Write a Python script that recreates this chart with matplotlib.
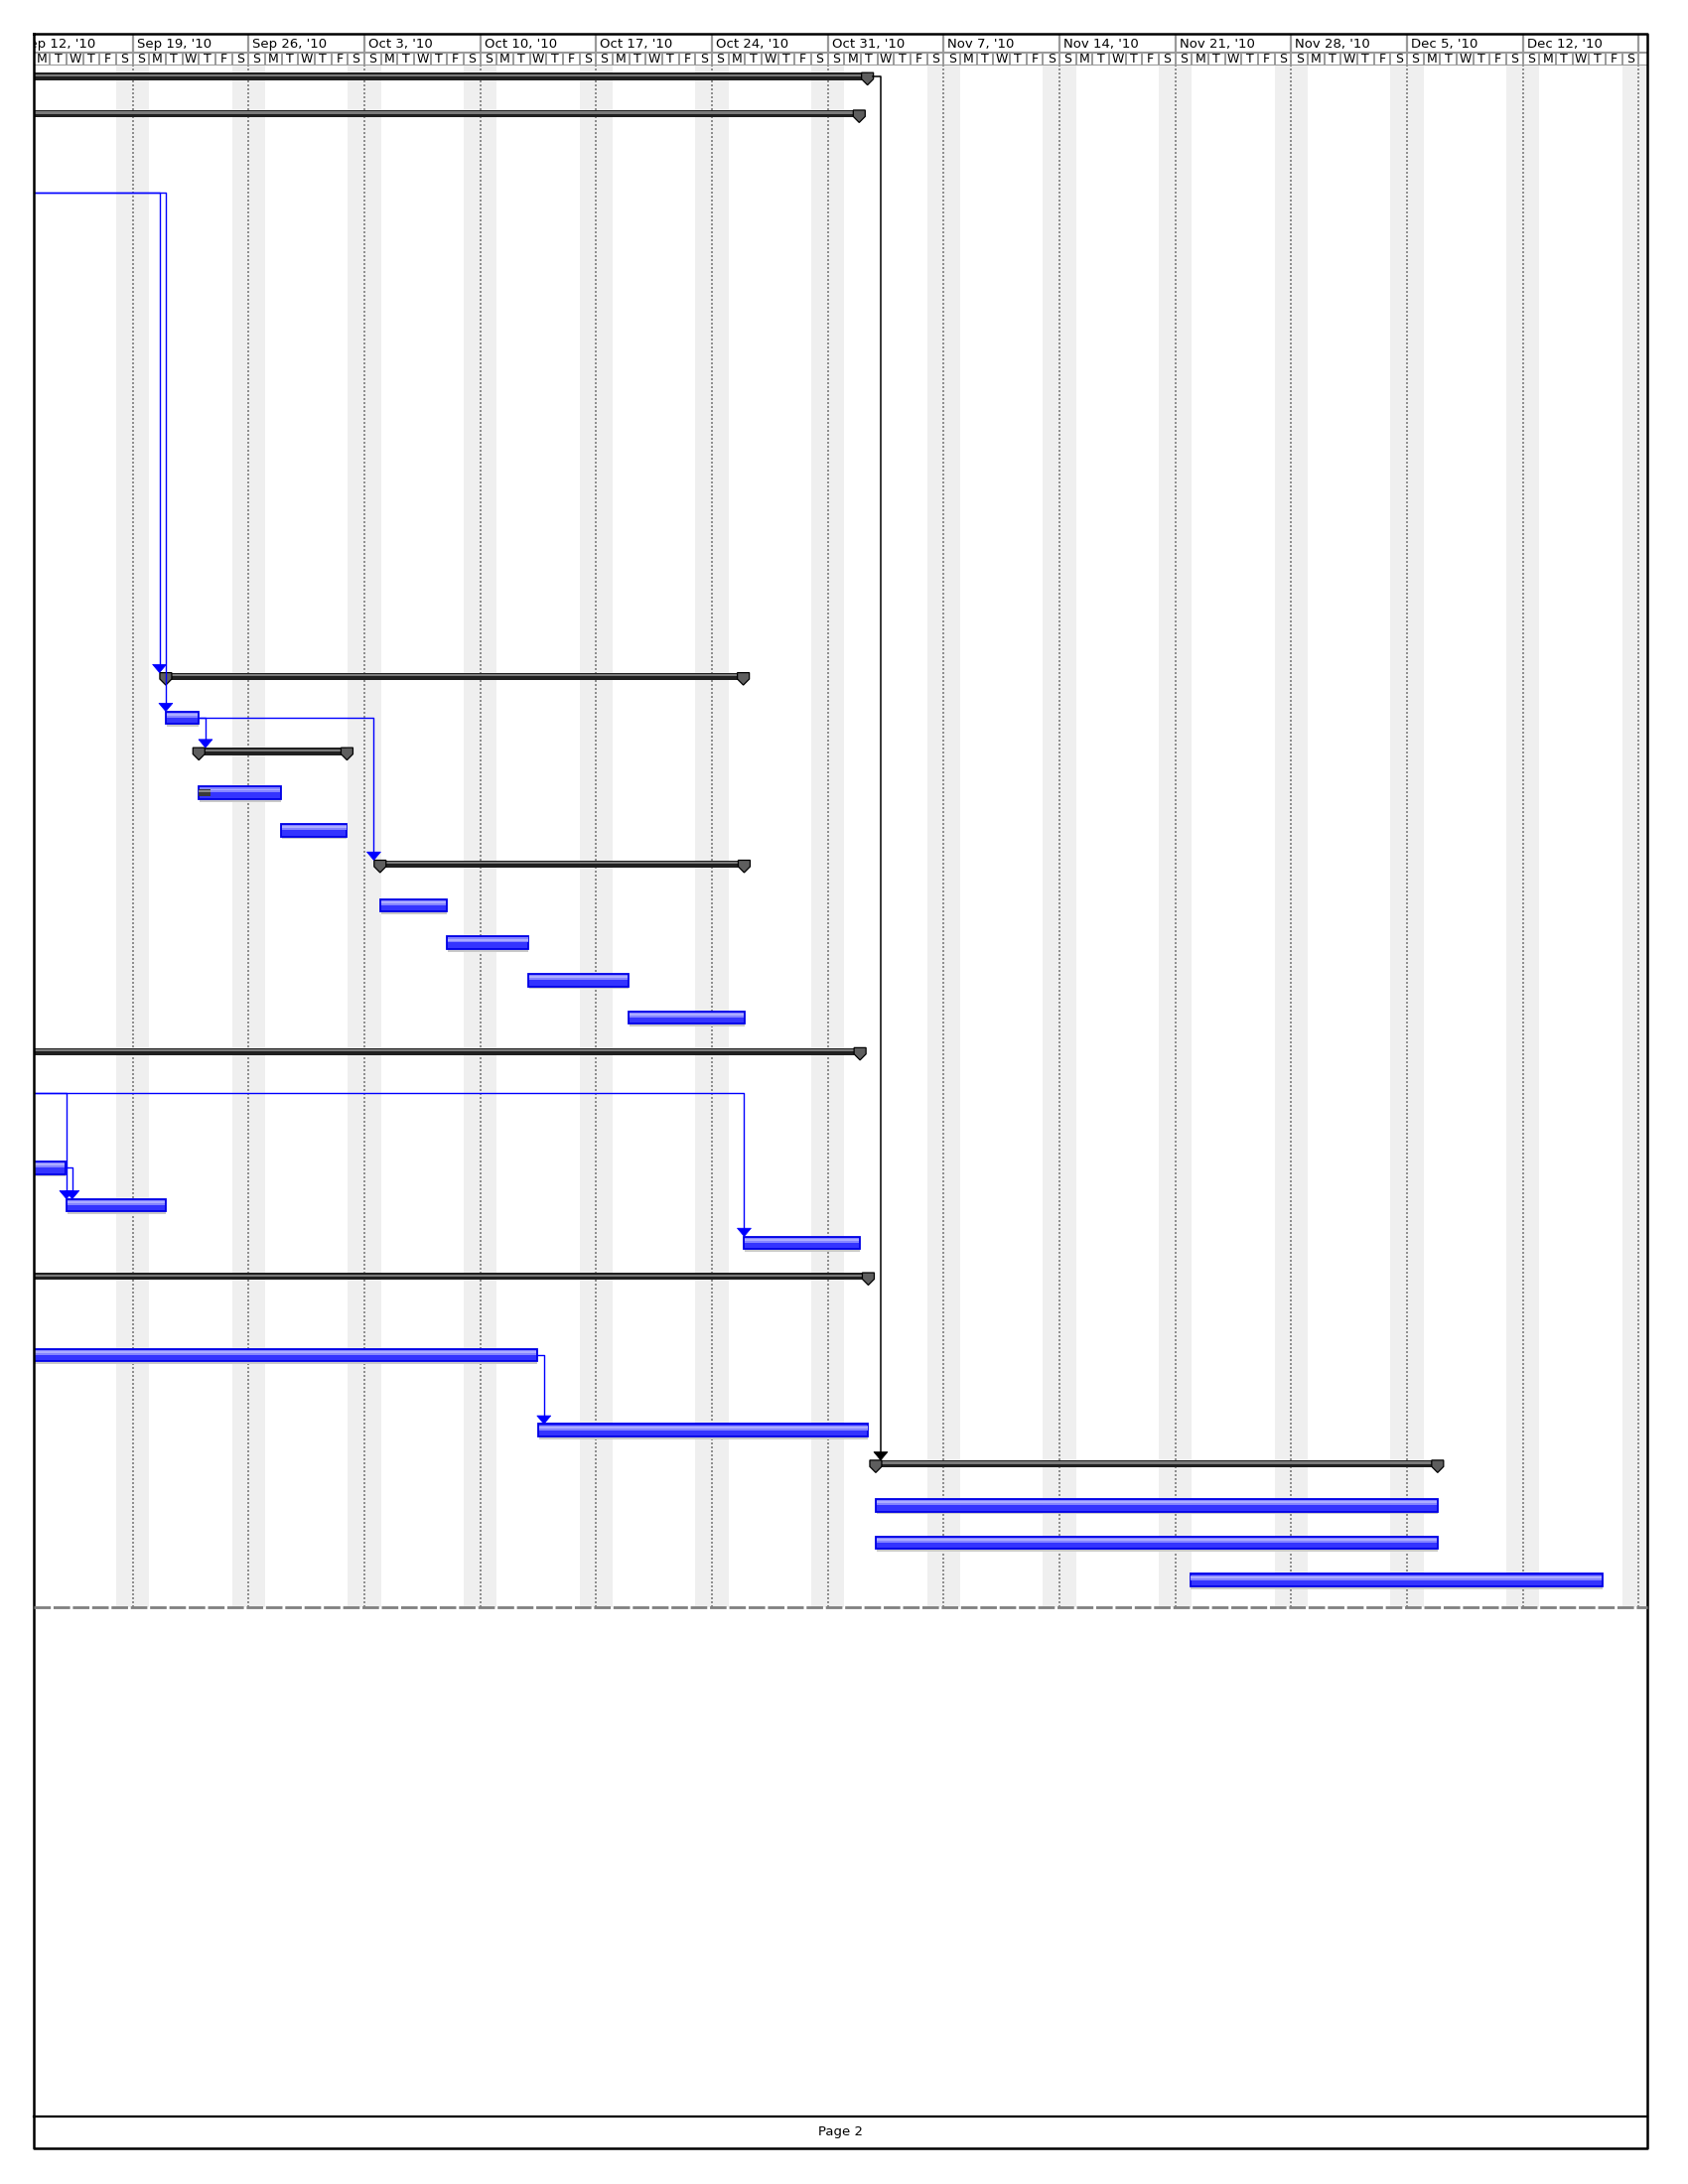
import numpy as np
import matplotlib
matplotlib.use("Agg")
import matplotlib.pyplot as plt
from matplotlib.patches import Polygon


# timescale, days counted from Sunday Sep 12, 2010
week_starts = [0, 7, 14, 21, 28, 35, 42, 49, 56, 63, 70, 77, 84, 91, 98]
week_labels = ["Sep 12, '10", "Sep 19, '10", "Sep 26, '10", "Oct 3, '10",
               "Oct 10, '10", "Oct 17, '10", "Oct 24, '10", "Oct 31, '10",
               "Nov 7, '10", "Nov 14, '10", "Nov 21, '10", "Nov 28, '10",
               "Dec 5, '10", "Dec 12, '10", ""]
day_letters = ["S", "M", "T", "W", "T", "F", "S"]
first_day, last_day = 1, 97

# summary bars (row on this page, start day, finish day); -5 = starts on page 1
sum_rows = [0, 1, 16, 18, 21, 26, 32, 37]
sum_start = [-5, -5, 9.0, 11.0, 21.95, -5, -5, 51.9]
sum_finish = [51.4, 50.9, 43.9, 19.95, 43.95, 50.95, 51.45, 85.85]

# task bars
task_rows = [17, 19, 20, 22, 23, 24, 25, 29, 30, 31, 34, 36, 38, 39, 40]
task_start = [9.0, 11.0, 15.95, 21.95, 25.97, 30.93, 36.97, -5, 3.0,
              43.95, -5, 31.5, 51.9, 51.9, 70.9]
task_finish = [11.0, 15.95, 19.95, 25.97, 30.93, 36.97, 43.97, 2.95, 9.0,
               50.95, 31.45, 51.45, 85.85, 85.85, 95.8]

progress_rows = [19]
progress_finish = [11.7]

# predecessors drawn on page 1 (rows 3 and 27)
offpage_rows = [3, 27]

# finish-to-start links
link_from = [3, 3, 17, 17, 27, 27, 29, 34]
link_to = [16, 17, 18, 21, 30, 31, 30, 36]
black_from = [0]
black_to = [37]


W, H = 1700, 2200
fig = plt.figure(figsize=(17, 22), dpi=100)

L, R, T, B = 34, 1659, 34, 2164
HB = 66          # header bottom
CB = 1619        # chart bottom
XLIM = (1.024, 98.52)

# ---- gantt area
ax = fig.add_axes([L / W, 1 - CB / H, (R - L) / W, (CB - HB) / H])
ax.set_xlim(*XLIM)
ax.set_ylim(40.72, -0.39)
ax.axis("off")

for w in week_starts:
    ax.axvspan(w - 1, w + 1, color="#efefef", lw=0, zorder=0)
    ax.axvline(w, color="#7c7c7c", lw=1.2, linestyle=(0, (1.2, 1.2)), zorder=1)


def pentagon(x, r):
    return Polygon([(x - 0.36, r - 0.2), (x + 0.36, r - 0.2), (x + 0.36, r - 0.03),
                    (x, r + 0.13), (x - 0.36, r - 0.03)], closed=True,
                   facecolor="#5e5e5e", edgecolor="black", lw=0.9, zorder=5)


def arrow(x, tip, color):
    ax.add_patch(Polygon([(x - 0.42, tip - 0.22), (x + 0.42, tip - 0.22), (x, tip)],
                         closed=True, facecolor=color, edgecolor=color, lw=0.5, zorder=6))


# summaries
for r, s, f in zip(sum_rows, sum_start, sum_finish):
    ax.barh(r - 0.1, f - s, left=s, height=0.19, color="#202020", zorder=4)
    ax.barh(r - 0.13, f - s, left=s, height=0.06, color="#7a7a7a", lw=0, zorder=4)
    ax.add_patch(pentagon(s, r))
    ax.add_patch(pentagon(f, r))

# tasks
for r, s, f in zip(task_rows, task_start, task_finish):
    ax.barh(r + 0.205, f - s - 0.05, left=s + 0.05, height=0.07, color="#c9c9c9",
            lw=0, zorder=3)
    ax.barh(r, f - s, left=s, height=0.334, color="#3434ff", edgecolor="#0000e6",
            lw=1.3, zorder=4)
    ax.barh(r - 0.07, f - s - 0.1, left=s + 0.05, height=0.13, color="#8585ff",
            lw=0, zorder=4)
    ax.barh(r - 0.08, f - s - 0.1, left=s + 0.05, height=0.05, color="#adadff",
            lw=0, zorder=4)

for r, f in zip(progress_rows, progress_finish):
    s = task_start[task_rows.index(r)]
    ax.barh(r, f - s, left=s, height=0.17, color="#3a3a3a", zorder=5)
    ax.barh(r - 0.04, f - s, left=s, height=0.04, color="#8a8a8a", lw=0, zorder=5)


def exit_point(r):
    if r in task_rows:
        return task_finish[task_rows.index(r)] + 0.4, r
    if r in sum_rows:
        return sum_finish[sum_rows.index(r)] + 0.8, r - 0.1
    return -5, r


def entry_point(r):
    if r in task_rows:
        return task_start[task_rows.index(r)], r - 0.167
    return sum_start[sum_rows.index(r)] - 0.38, r - 0.2


for a, b in zip(link_from, link_to):
    x0, y0 = exit_point(a)
    xs, tip = entry_point(b)
    xd = max(x0, xs)
    start = x0 - 0.4 if a in task_rows else x0 - 0.8
    ax.plot([start, xd, xd], [y0, y0, tip - 0.1], color="#0000ff", lw=1.0, zorder=6)
    arrow(xd, tip, "#0000ff")

for a, b in zip(black_from, black_to):
    x0, y0 = exit_point(a)
    xs, tip = entry_point(b)
    xd = max(x0, xs)
    ax.plot([x0 - 0.5, xd, xd], [y0, y0, tip - 0.1], color="black", lw=1.1, zorder=6)
    arrow(xd, tip, "black")

# ---- timescale header
hx = fig.add_axes([L / W, 1 - HB / H, (R - L) / W, (HB - T) / H])
hx.set_xlim(*XLIM)
hx.set_ylim(1, 0)
hx.axis("off")
mid = 0.594
hx.axhline(mid, color="#9a9a9a", lw=1.5)
hx.axhline(0.985, color="#9a9a9a", lw=1.5)
for w, lab in zip(week_starts, week_labels):
    hx.plot([w, w], [0, mid], color="#9a9a9a", lw=1.6)
    hx.text(w + 0.25, 0.33, lab, fontsize=9.5, va="center", ha="left", clip_on=True)
for d in range(first_day - 1, last_day + 2):
    hx.plot([d, d], [mid, 1], color="#9a9a9a", lw=1.4)
for d in range(first_day, last_day + 1):
    hx.text(d + 0.5, 0.8, day_letters[d % 7], fontsize=9, va="center", ha="center")

# ---- page frame and footer
pg = fig.add_axes([0, 0, 1, 1], zorder=5)
pg.set_xlim(0, W)
pg.set_ylim(H, 0)
pg.axis("off")
pg.plot([L, R, R, L, L], [T, T, B, B, T], color="black", lw=1.8)
pg.plot([L, R], [2132, 2132], color="black", lw=1.6)
pg.plot([L, R], [CB, CB], color="#808080", lw=2, linestyle=(0, (6, 1)))
pg.text((L + R) / 2, 2148, "Page 2", fontsize=9.5, ha="center", va="center")

fig.savefig("out.png", dpi=100)
